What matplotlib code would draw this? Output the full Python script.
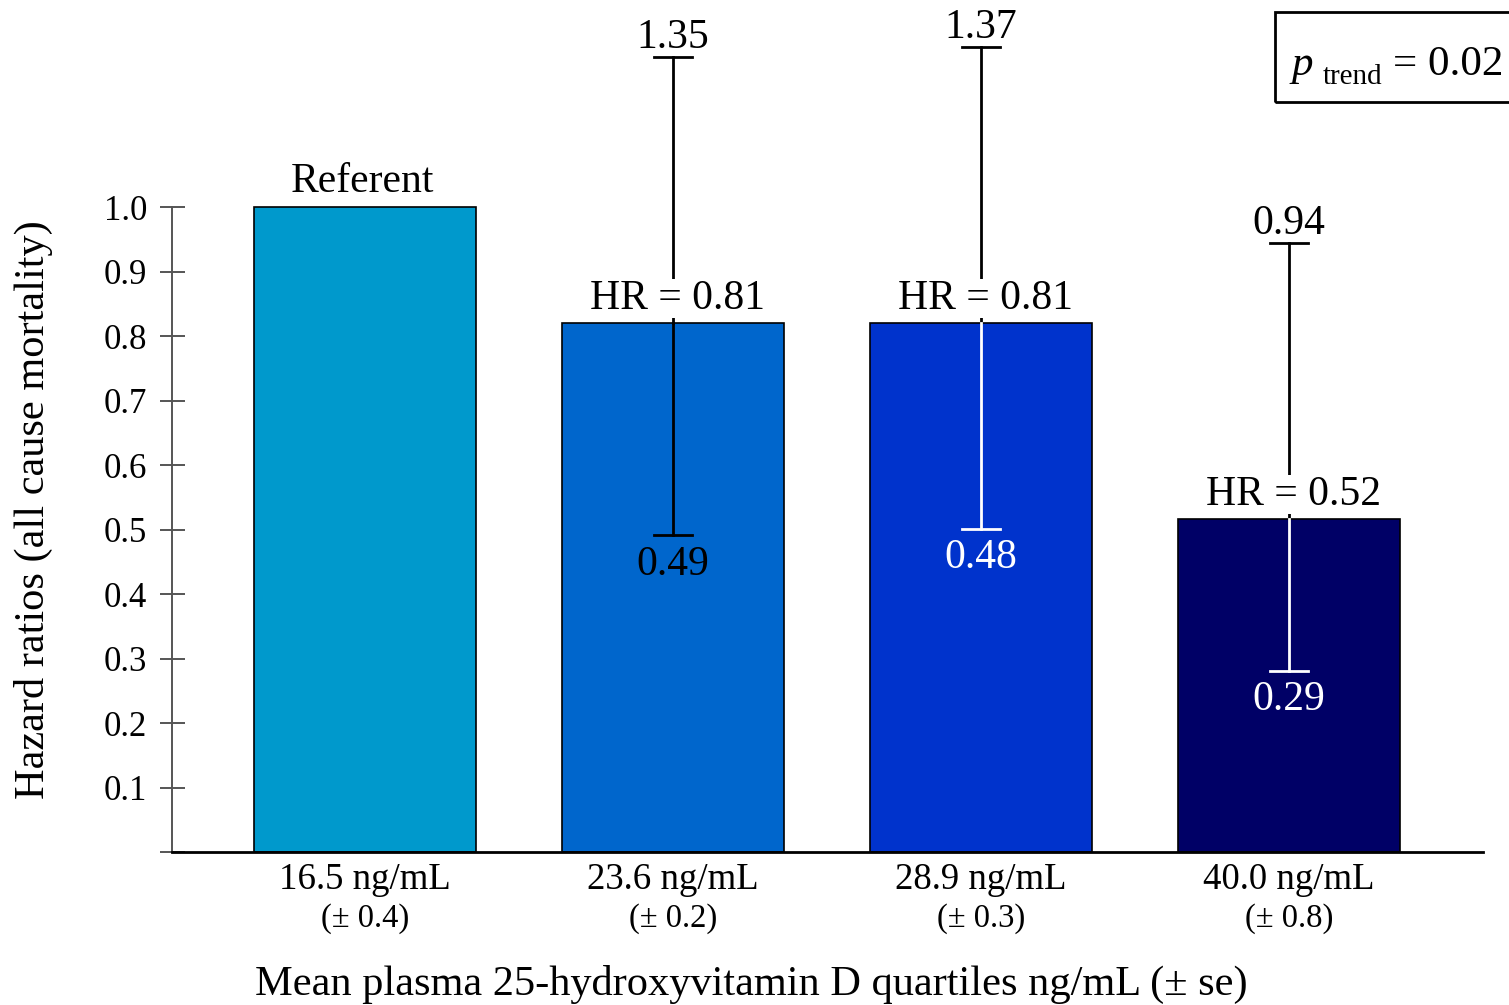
import matplotlib.pyplot as plt
import matplotlib.patches as patches

plt.rcParams['font.family'] = ['Liberation Serif', 'DejaVu Serif']
plt.rcParams['mathtext.fontset'] = 'custom'
plt.rcParams['mathtext.rm'] = 'Liberation Serif'
plt.rcParams['mathtext.it'] = 'Liberation Serif:italic'

# data
quartile_means = ['16.5 ng/mL', '23.6 ng/mL', '28.9 ng/mL', '40.0 ng/mL']
quartile_se = ['(± 0.4)', '(± 0.2)', '(± 0.3)', '(± 0.8)']
hr_drawn = [1.0, 0.82, 0.82, 0.516]
hr_labels = ['Referent', 'HR = 0.81', 'HR = 0.81', 'HR = 0.52']
ci_upper_drawn = [None, 1.233, 1.248, 0.944]
ci_lower_drawn = [None, 0.491, 0.501, 0.281]
ci_upper_labels = [None, '1.35', '1.37', '0.94']
ci_lower_labels = [None, '0.49', '0.48', '0.29']
bar_colors = ['#0099cc', '#0066cc', '#0033cc', '#000066']
inner_colors = [None, 'black', 'white', 'white']
yticks = [0.1, 0.2, 0.3, 0.4, 0.5, 0.6, 0.7, 0.8, 0.9, 1.0]

fig = plt.figure(figsize=(15.09, 10.05), dpi=100)
ax = fig.add_axes([172 / 1509, 153 / 1005, (1483 - 172) / 1509, 1.3 * 645 / 1005])
ax.set_xlim(-0.627, 3.63)
ax.set_ylim(0, 1.3)

x = range(len(hr_drawn))
ax.bar(x, hr_drawn, width=0.72, color=bar_colors, edgecolor='black', linewidth=1.2, zorder=2)

cap = 0.063
for i in x:
    if ci_upper_drawn[i] is None:
        ax.text(i - 0.01, hr_drawn[i] + 0.024, hr_labels[i], ha='center', va='baseline', fontsize=30, zorder=5)
        continue
    # upper whisker (outside the bar)
    ax.plot([i, i], [hr_drawn[i], ci_upper_drawn[i]], color='black', lw=2, zorder=3)
    ax.plot([i - cap, i + cap], [ci_upper_drawn[i]] * 2, color='black', lw=2, zorder=3)
    ax.annotate(ci_upper_labels[i], (i, ci_upper_drawn[i]), xytext=(0, 6.5), textcoords='offset points',
                ha='center', va='baseline', fontsize=30, zorder=5)
    # lower whisker (inside the bar)
    ax.plot([i, i], [ci_lower_drawn[i], hr_drawn[i]], color=inner_colors[i], lw=2, zorder=3)
    ax.plot([i - cap, i + cap], [ci_lower_drawn[i]] * 2, color=inner_colors[i], lw=2, zorder=3)
    ax.annotate(ci_lower_labels[i], (i, ci_lower_drawn[i]), xytext=(0, -7), textcoords='offset points',
                ha='center', va='top', fontsize=30, color=inner_colors[i], zorder=5)
    ax.text(i + 0.015, hr_drawn[i] + 0.022, hr_labels[i], ha='center', va='baseline', fontsize=30, zorder=5,
            bbox=dict(facecolor='white', edgecolor='none', pad=0))

# x category labels, two lines
for i in x:
    ax.annotate(quartile_means[i], (i, 0), xycoords=('data', 'axes fraction'), xytext=(0, -26.5),
                textcoords='offset points', ha='center', va='baseline', fontsize=26.5)
    ax.annotate(quartile_se[i], (i, 0), xycoords=('data', 'axes fraction'), xytext=(0, -54),
                textcoords='offset points', ha='center', va='baseline', fontsize=23.5)
ax.set_xticks([])

ax.set_yticks([0] + yticks)
ax.set_yticklabels([''] + ['%.1f' % t for t in yticks], fontsize=25)
ax.tick_params(axis='y', direction='inout', length=18, width=1.4, color='#555555', pad=9)

for s in ['top', 'right']:
    ax.spines[s].set_visible(False)
ax.spines['left'].set_bounds(0, 1.0)
ax.spines['left'].set_color('#555555')
ax.spines['left'].set_linewidth(1.4)
ax.spines['bottom'].set_linewidth(2)

fig.text(33 / 1509, 1 - 510 / 1005, 'Hazard ratios (all cause mortality)', rotation=90,
         ha='center', va='center', fontsize=30.5)
fig.text(751 / 1509, 10 / 1005, 'Mean plasma 25-hydroxyvitamin D quartiles ng/mL (± se)',
         ha='center', va='baseline', fontsize=30.5)

# p trend box, runs off the right edge
fig.patches.append(patches.Rectangle((1275 / 1509, 1 - 102 / 1005), 300 / 1509, 90 / 1005,
                                     transform=fig.transFigure, fill=False, edgecolor='black',
                                     linewidth=2))
fig.text(1289 / 1509, 1 - 75 / 1005, r'$p$', ha='left', va='baseline', fontsize=31)
fig.text(1323 / 1509, 1 - 84 / 1005, 'trend', ha='left', va='baseline', fontsize=21)
fig.text(1393 / 1509, 1 - 75 / 1005, '= 0.02', ha='left', va='baseline', fontsize=31)

fig.savefig('out.png', dpi=100)
